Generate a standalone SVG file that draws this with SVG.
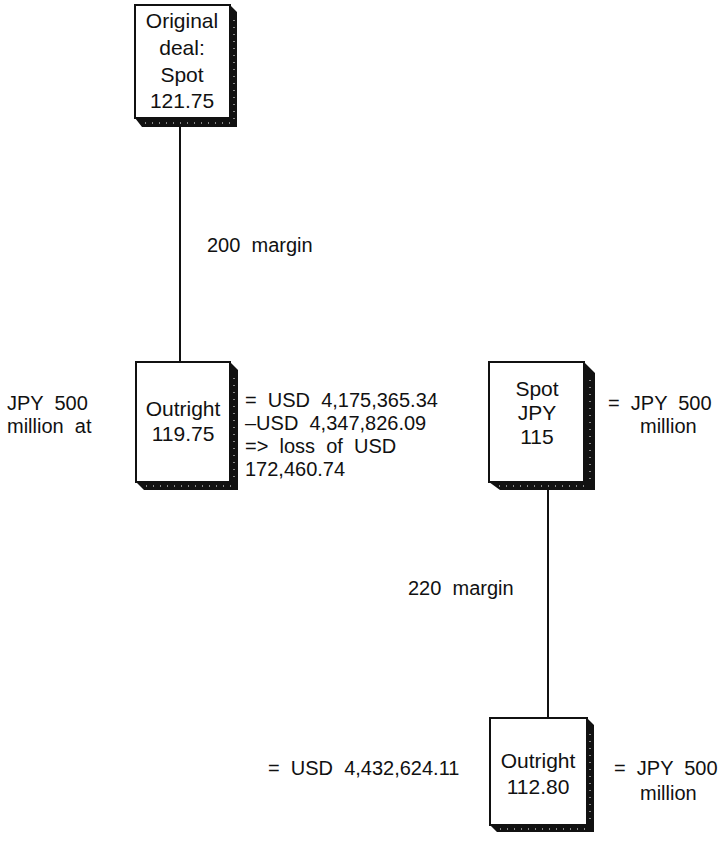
<svg xmlns="http://www.w3.org/2000/svg" width="727" height="844" viewBox="0 0 727 844">
<style>
text{font-family:"Liberation Sans",Arial,sans-serif;font-size:20px;fill:#111;white-space:pre}
.c{text-anchor:middle;font-size:21px}
.face{fill:#fff;stroke:#111;stroke-width:2}
.shadow{fill:#111}
.speck{stroke:#fff;stroke-width:1;stroke-dasharray:1 6;fill:none}
.conn{stroke:#111;stroke-width:2;fill:none}
</style>
<rect width="727" height="844" fill="#fff"/>
<g id="connectors">
<line class="conn" x1="180" y1="127" x2="180" y2="362"/>
<line class="conn" x1="548" y1="490" x2="548" y2="718"/>
</g>
<g id="node-original">
<polygon class="shadow" points="230,5 237,12 237,127 142,127 135,118 230,118"/>
<rect class="face" x="135" y="5" width="95" height="113"/>
<path class="speck" d="M145,123 H233 M234,20 V120"/>
<text class="c" x="182" y="28">Original</text>
<text class="c" x="182" y="55">deal:</text>
<text class="c" x="182" y="82">Spot</text>
<text class="c" x="182" y="108">121.75</text>
</g>
<g id="node-outright1">
<polygon class="shadow" points="230,362 238,370 238,490 144,490 136,482 230,482"/>
<rect class="face" x="136" y="362" width="94" height="120"/>
<path class="speck" d="M146,486 H234 M234,378 V482"/>
<text class="c" x="183" y="416">Outright</text>
<text class="c" x="183" y="441">119.75</text>
</g>
<g id="node-spot">
<polygon class="shadow" points="584,362 595,373 595,490 500,490 489,482 584,482"/>
<rect class="face" x="489" y="362" width="95" height="120"/>
<path class="speck" d="M499,486 H590 M590,380 V482"/>
<text class="c" x="537" y="396">Spot</text>
<text class="c" x="537" y="420">JPY</text>
<text class="c" x="537" y="444">115</text>
</g>
<g id="node-outright2">
<polygon class="shadow" points="587,718 594,725 594,832 497,832 490,825 587,825"/>
<rect class="face" x="490" y="718" width="97" height="107"/>
<path class="speck" d="M500,829 H590 M590,734 V825"/>
<text class="c" x="538" y="768">Outright</text>
<text class="c" x="538" y="794">112.80</text>
</g>
<g id="labels">
<text x="207" y="252">200  margin</text>
<text x="408" y="595">220  margin</text>
<text x="7" y="410">JPY  500</text>
<text x="7" y="433">million  at</text>
<text x="245" y="407">=  USD  4,175,365.34</text>
<text x="245" y="430">–USD  4,347,826.09</text>
<text x="245" y="453">=&gt;  loss  of  USD</text>
<text x="245" y="476">172,460.74</text>
<text x="608" y="410">=  JPY  500</text>
<text x="640" y="433">million</text>
<text x="268" y="775">=  USD  4,432,624.11</text>
<text x="614" y="775">=  JPY  500</text>
<text x="640" y="800">million</text>
</g>
</svg>
